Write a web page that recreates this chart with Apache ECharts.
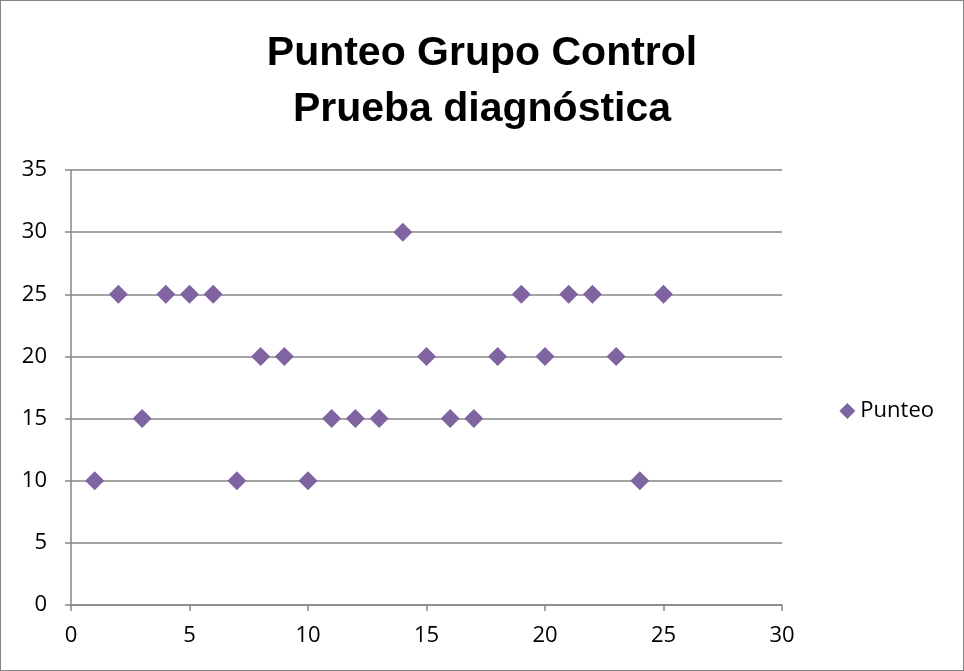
<!DOCTYPE html>
<html>
<head>
<meta charset="utf-8">
<script src="https://cdn.jsdelivr.net/npm/echarts@6/dist/echarts.min.js"></script>
<style>
    html, body { margin: 0; padding: 0; background: #fff; }
    #chart {
        width: 962px; height: 669px;
        border: 1px solid #868686;
    }
</style>
</head>
<body>
<div id="chart"></div>
<script>
    // datos
    var alumnos = [1, 2, 3, 4, 5, 6, 7, 8, 9, 10, 11, 12, 13, 14, 15, 16, 17, 18, 19, 20, 21, 22, 23, 24, 25];
    var punteo = [10, 25, 15, 25, 25, 25, 10, 20, 20, 10, 15, 15, 15, 30, 20, 15, 15, 20, 25, 20, 25, 25, 20, 10, 25];

    var puntos = [];
    for (var i = 0; i < alumnos.length; i++) {
        puntos.push([alumnos[i], punteo[i]]);
    }

    var myChart = echarts.init(document.getElementById('chart'));
    var option = {
        animation: false,
        title: {
            text: 'Punteo Grupo Control\nPrueba diagnóstica',
            left: 'center',
            top: 20,
            textStyle: {
                fontFamily: 'Liberation Sans',
                fontWeight: 'bold',
                fontSize: 41,
                lineHeight: 56,
                color: '#000'
            }
        },
        legend: {
            right: 24,
            top: 394,
            orient: 'vertical',
            icon: 'diamond',
            itemWidth: 16,
            itemHeight: 16,
            itemGap: 6,
            textStyle: { fontFamily: 'Open Sans', fontSize: 22, color: '#000' },
            data: ['Punteo']
        },
        grid: { left: 70, right: 181, top: 169, bottom: 65 },
        xAxis: {
            type: 'value',
            min: 0, max: 30, interval: 5,
            axisLine: { show: true, lineStyle: { color: '#868686', width: 1.5 } },
            axisTick: { show: true, inside: false, length: 6, lineStyle: { color: '#868686', width: 1.5 } },
            axisLabel: { fontFamily: 'Open Sans', fontSize: 22, color: '#000', margin: 20 },
            splitLine: { show: false }
        },
        yAxis: {
            type: 'value',
            min: 0, max: 35, interval: 5,
            axisLine: { show: true, lineStyle: { color: '#868686', width: 1.5 } },
            axisTick: { show: true, inside: false, length: 6, lineStyle: { color: '#868686', width: 1.5 } },
            axisLabel: { fontFamily: 'Open Sans', fontSize: 22, color: '#000', margin: 24 },
            splitLine: { show: true, lineStyle: { color: '#868686', width: 1.5 } }
        },
        series: [{
            name: 'Punteo',
            type: 'scatter',
            symbol: 'diamond',
            symbolSize: 19,
            itemStyle: { color: '#8064A2', opacity: 1 },
            data: puntos
        }]
    };
    myChart.setOption(option);
</script>
</body>
</html>
